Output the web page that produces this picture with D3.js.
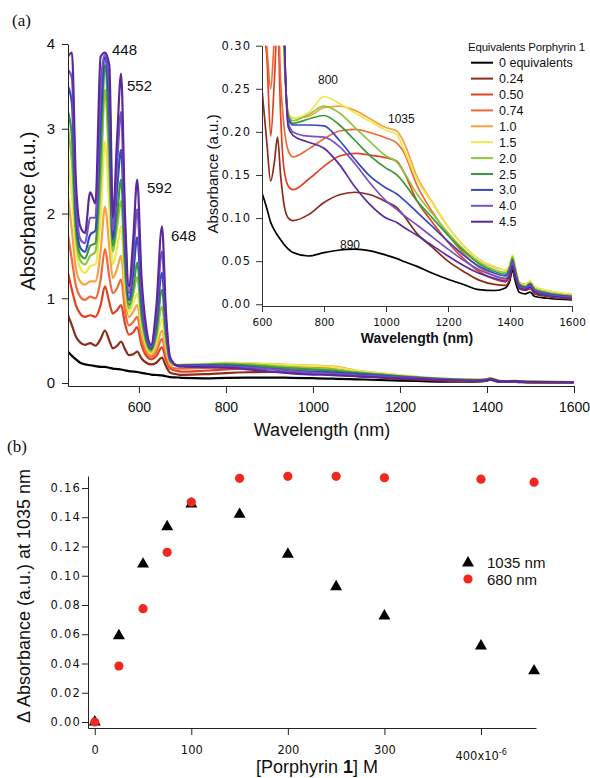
<!DOCTYPE html>
<html>
<head>
<meta charset="utf-8">
<script src="https://cdn.jsdelivr.net/npm/d3@7"></script>
<style>
body{margin:0;background:#fff}
svg{display:block}
text{font-family:"Liberation Sans",Arial,sans-serif;fill:#111}
.geneva text, text.geneva{font-family:"DejaVu Sans",Verdana,sans-serif}
</style>
</head>
<body>
<div id="chart"></div>
<script>
// ---- data ----
const equivNames = ["0 equivalents","0.24","0.50","0.74","1.0","1.5","2.0","2.5","3.0","4.0","4.5"];
const lineColors = ["#000000","#8c2a1c","#e2401f","#ef6a38","#f5a340","#efe84c","#8fc640","#3c9a3c","#3548c0","#7553c6","#5a2a9c"];

// visible region of the big panel (nm)
const wlUV = [437,446,455,465,476,488,500,512,522,532,540,550,559,568,577,587,596,606,617,628,640,653,662,672,690];
const uv_0   = [0.37,0.32,0.28,0.24,0.22,0.21,0.20,0.19,0.19,0.18,0.17,0.165,0.16,0.15,0.14,0.135,0.13,0.12,0.11,0.10,0.095,0.09,0.08,0.07,0.065];
const uv_024 = [0.80,0.68,0.55,0.48,0.45,0.47,0.44,0.52,0.62,0.50,0.41,0.44,0.49,0.40,0.33,0.34,0.37,0.29,0.24,0.22,0.24,0.30,0.20,0.12,0.10];
const uv_050 = [1.30,1.10,0.92,0.82,0.78,0.80,0.78,0.92,1.14,0.95,0.82,0.86,0.92,0.70,0.57,0.60,0.66,0.45,0.32,0.28,0.32,0.42,0.28,0.17,0.14];
const uv_074 = [1.75,1.45,1.15,1.02,0.98,1.02,1.00,1.22,1.58,1.25,1.06,1.12,1.22,0.85,0.68,0.72,0.78,0.52,0.36,0.31,0.37,0.52,0.34,0.19,0.17];
const uv_10  = [2.20,1.80,1.35,1.20,1.16,1.20,1.20,1.55,2.08,1.60,1.24,1.35,1.50,1.00,0.78,0.84,0.92,0.60,0.40,0.33,0.42,0.62,0.39,0.22,0.21];
const uv_15  = [2.70,2.20,1.60,1.36,1.30,1.38,1.40,1.95,2.85,2.05,1.40,1.60,1.85,1.15,0.84,0.95,1.05,0.68,0.44,0.35,0.48,0.75,0.45,0.24,0.215];
const uv_20  = [3.00,2.60,1.75,1.45,1.40,1.50,1.55,2.35,3.46,2.50,1.55,1.85,2.15,1.30,0.88,1.05,1.25,0.75,0.47,0.37,0.54,0.90,0.50,0.25,0.21];
const uv_25  = [3.20,2.90,1.85,1.52,1.47,1.62,1.65,2.70,3.75,2.80,1.62,2.00,2.40,1.42,0.92,1.12,1.42,0.82,0.50,0.39,0.60,1.10,0.58,0.26,0.21];
const uv_30  = [3.50,3.30,2.00,1.60,1.55,1.75,1.80,3.10,3.85,3.20,1.70,2.30,2.75,1.60,0.98,1.30,1.72,0.95,0.55,0.41,0.70,1.30,0.65,0.27,0.205];
const uv_40  = [3.70,3.60,2.20,1.70,1.65,1.95,1.95,3.50,3.88,3.50,1.80,2.60,3.20,1.80,1.06,1.50,2.05,1.10,0.60,0.43,0.80,1.55,0.75,0.28,0.20];
const uv_45  = [3.85,3.90,2.40,1.85,1.77,2.25,2.12,3.85,3.90,3.75,1.95,2.90,3.65,2.00,1.14,1.70,2.40,1.25,0.65,0.45,0.90,1.85,0.85,0.30,0.20];

// inset region (nm)
const wlNIR = [600,615,628,640,650,660,670,685,700,750,800,850,900,950,1000,1035,1055,1100,1150,1200,1250,1300,1350,1385,1400,1408,1416,1430,1450,1465,1480,1520,1600];
const nir_0   = [0.129,0.112,0.095,0.086,0.080,0.075,0.070,0.064,0.060,0.056,0.060,0.063,0.064,0.062,0.057,0.053,0.050,0.044,0.036,0.029,0.023,0.017,0.016,0.019,0.028,0.040,0.028,0.014,0.012,0.014,0.009,0.007,0.005];
const nir_024 = [0.249,0.19,0.143,0.165,0.194,0.15,0.118,0.10,0.097,0.104,0.118,0.127,0.130,0.127,0.119,0.112,0.104,0.082,0.066,0.050,0.038,0.028,0.023,0.022,0.030,0.045,0.032,0.018,0.016,0.018,0.012,0.009,0.006];
const nir_050 = [0.32,0.29,0.195,0.26,0.33,0.22,0.16,0.137,0.133,0.145,0.16,0.172,0.175,0.173,0.170,0.166,0.155,0.12,0.095,0.072,0.053,0.038,0.029,0.026,0.035,0.05,0.036,0.02,0.018,0.021,0.014,0.01,0.007];
const nir_074 = [0.34,0.30,0.25,0.31,0.36,0.26,0.21,0.178,0.171,0.18,0.192,0.201,0.203,0.199,0.193,0.187,0.178,0.138,0.107,0.081,0.059,0.043,0.033,0.029,0.038,0.052,0.038,0.022,0.02,0.023,0.015,0.011,0.008];
const nir_10  = [0.8,0.55,0.4,0.5,0.9,0.5,0.30,0.222,0.216,0.218,0.228,0.23,0.225,0.215,0.205,0.201,0.19,0.148,0.118,0.09,0.068,0.052,0.043,0.04,0.046,0.056,0.045,0.026,0.023,0.027,0.02,0.016,0.011];
const nir_15  = [0.9,0.6,0.45,0.6,1.0,0.55,0.31,0.222,0.216,0.222,0.241,0.233,0.222,0.212,0.202,0.197,0.182,0.145,0.117,0.09,0.068,0.052,0.044,0.04,0.047,0.057,0.045,0.025,0.022,0.027,0.02,0.016,0.012];
const nir_20  = [1.0,0.65,0.47,0.65,1.1,0.6,0.32,0.22,0.213,0.22,0.23,0.222,0.205,0.188,0.172,0.165,0.155,0.128,0.105,0.083,0.064,0.049,0.04,0.037,0.045,0.055,0.043,0.024,0.021,0.025,0.018,0.014,0.01];
const nir_25  = [1.1,0.7,0.5,0.7,1.2,0.65,0.33,0.218,0.21,0.215,0.219,0.208,0.19,0.172,0.158,0.15,0.142,0.12,0.1,0.08,0.062,0.047,0.038,0.035,0.043,0.053,0.041,0.023,0.02,0.024,0.017,0.013,0.009];
const nir_30  = [1.3,0.8,0.55,0.8,1.4,0.7,0.34,0.215,0.208,0.208,0.207,0.19,0.168,0.148,0.135,0.128,0.122,0.107,0.09,0.073,0.057,0.044,0.036,0.033,0.041,0.05,0.039,0.022,0.019,0.023,0.016,0.012,0.009];
const nir_40  = [1.6,0.9,0.6,0.9,1.6,0.8,0.35,0.21,0.2,0.195,0.194,0.183,0.163,0.14,0.12,0.11,0.104,0.092,0.078,0.064,0.051,0.04,0.033,0.03,0.038,0.048,0.036,0.02,0.018,0.021,0.015,0.011,0.008];
const nir_45  = [1.9,1.0,0.65,1.0,1.9,0.9,0.36,0.205,0.196,0.188,0.181,0.162,0.136,0.115,0.1,0.095,0.09,0.08,0.068,0.056,0.045,0.036,0.03,0.027,0.035,0.045,0.033,0.019,0.017,0.02,0.014,0.01,0.007];

// titration (panel b)
const concPorph = [0,25,50,75,100,150,200,250,300,400,455];
const dAbs1035  = [0,0.059,0.108,0.1335,0.149,0.142,0.1147,0.0925,0.0725,0.052,0.035];
const dAbs680   = [0,0.0383,0.0775,0.116,0.1504,0.1666,0.168,0.168,0.167,0.166,0.164];

const uvSets  = [uv_0,uv_024,uv_050,uv_074,uv_10,uv_15,uv_20,uv_25,uv_30,uv_40,uv_45];
const nirSets = [nir_0,nir_024,nir_050,nir_074,nir_10,nir_15,nir_20,nir_25,nir_30,nir_40,nir_45];

const W = 590, H = 778;
const svg = d3.select("#chart").append("svg").attr("width",W).attr("height",H);

// ---------- panel (a) main ----------
const xMain = d3.scaleLinear().domain([437,1600]).range([68,574]);
const yMain = d3.scaleLinear().domain([-0.035,4]).range([386,44]);

svg.append("defs").append("clipPath").attr("id","clipMain")
  .append("rect").attr("x",68).attr("y",44).attr("width",506).attr("height",342);
svg.select("defs").append("clipPath").attr("id","clipInset")
  .append("rect").attr("x",262).attr("y",45.7).attr("width",310).attr("height",260.3);

const mainLine = d3.line().x(d=>xMain(d[0])).y(d=>yMain(d[1])).curve(d3.curveMonotoneX);
const mainG = svg.append("g").attr("clip-path","url(#clipMain)");
uvSets.forEach((s,i)=>{
  let pts = wlUV.map((w,j)=>[w,s[j]]);
  wlNIR.forEach((w,j)=>{ if(w>=700) pts.push([w,nirSets[i][j]]) });
  mainG.append("path").datum(pts)
    .attr("fill","none").attr("stroke",lineColors[i])
    .attr("stroke-width",2.2).attr("stroke-linejoin","round")
    .attr("d",mainLine);
});

let ax = svg.append("g").attr("transform","translate(68,0)")
  .call(d3.axisLeft(yMain).tickValues([0,1,2,3,4]).tickFormat(d3.format("d")).tickSize(6).tickSizeOuter(0).tickPadding(7));
ax.selectAll("text").style("font-size","15px");
let bx = svg.append("g").attr("transform","translate(0,386)")
  .call(d3.axisBottom(xMain).tickValues([600,800,1000,1200,1400,1600]).tickFormat(d3.format("d")).tickSize(7).tickSizeOuter(0).tickPadding(9));
bx.selectAll("text").style("font-size","14px");
svg.selectAll(".domain, .tick line").attr("stroke","#222");

svg.append("text").text("Wavelength (nm)").attr("x",322).attr("y",436)
  .attr("text-anchor","middle").style("font-size","18px");
svg.append("text").text("Absorbance (a.u.)")
  .attr("transform","translate(35,211) rotate(-90)")
  .attr("text-anchor","middle").style("font-size","20px");

const peakLabels = [["448",112,54.5],["552",127,90.5],["592",147,192.5],["648",171,240.5]];
peakLabels.forEach(p=>{
  svg.append("text").text(p[0]).attr("x",p[1]).attr("y",p[2]).style("font-size","15px");
});

svg.append("text").text("(a)").attr("x",12).attr("y",26)
  .style("font-family","'Liberation Serif','Times New Roman',serif").style("font-size","17px");

// ---------- panel (a) inset ----------
const xIn = d3.scaleLinear().domain([600,1600]).range([262,572]);
const yIn = d3.scaleLinear().domain([-0.002,0.30]).range([306,45.7]);
const inLine = d3.line().x(d=>xIn(d[0])).y(d=>yIn(d[1])).curve(d3.curveMonotoneX);
const inG = svg.append("g").attr("clip-path","url(#clipInset)");
nirSets.forEach((s,i)=>{
  inG.append("path").datum(wlNIR.map((w,j)=>[w,s[j]]))
    .attr("fill","none").attr("stroke",lineColors[i])
    .attr("stroke-width",1.7).attr("stroke-linejoin","round")
    .attr("d",inLine);
});
let ay = svg.append("g").attr("class","geneva").attr("transform","translate(262,0)")
  .call(d3.axisLeft(yIn).tickValues([0,0.05,0.1,0.15,0.2,0.25,0.3]).tickFormat(d3.format(".2f")).tickSize(6).tickSizeOuter(0).tickPadding(5));
ay.selectAll("text").style("font-size","11.5px").style("letter-spacing","1px");
let ix = svg.append("g").attr("class","geneva").attr("transform","translate(0,306)")
  .call(d3.axisBottom(xIn).tickValues([600,800,1000,1200,1400,1600]).tickFormat(d3.format("d")).tickSize(6).tickSizeOuter(0).tickPadding(7));
ix.selectAll("text").style("font-size","10.5px");
ay.selectAll(".domain, .tick line").attr("stroke","#333");
ix.selectAll(".domain, .tick line").attr("stroke","#333");

svg.append("text").text("Wavelength (nm)").attr("x",417).attr("y",343)
  .attr("text-anchor","middle").style("font-size","14px").style("font-weight","bold");
svg.append("text").text("Absorbance (a.u.)")
  .attr("transform","translate(218,174) rotate(-90)")
  .attr("text-anchor","middle").style("font-size","15px");

const insetLabels = [["800",318,84],["1035",388,123],["890",340,249]];
insetLabels.forEach(p=>{
  svg.append("text").text(p[0]).attr("x",p[1]).attr("y",p[2]).style("font-size","12px");
});

// legend
svg.append("text").text("Equivalents Porphyrin 1").attr("x",468).attr("y",51)
  .style("font-size","11.5px").style("letter-spacing","-0.2px");
equivNames.forEach((n,i)=>{
  let y = 62.7 + i*15.9;
  svg.append("line").attr("x1",471).attr("x2",493).attr("y1",y).attr("y2",y)
    .attr("stroke",lineColors[i]).attr("stroke-width",2);
  svg.append("text").text(n).attr("x",499).attr("y",y+4.5).style("font-size","12.5px");
});

// ---------- panel (b) ----------
const xB = d3.scaleLinear().domain([-7,457]).range([88,536]);
const yB = d3.scaleLinear().domain([-0.0041,0.1682]).range([728,476]);

let byAx = svg.append("g").attr("class","geneva").attr("transform","translate(88,0)")
  .call(d3.axisLeft(yB).tickValues(d3.range(0,0.161,0.02)).tickFormat(d3.format(".2f")).tickSize(6).tickSizeOuter(0).tickPadding(1));
byAx.selectAll("text").style("font-size","11.5px").style("letter-spacing","1.2px");
let bxAx = svg.append("g").attr("class","geneva").attr("transform","translate(0,728)")
  .call(d3.axisBottom(xB).tickValues([0,100,200,300,400]).tickSize(7).tickSizeOuter(0).tickPadding(11));
bxAx.selectAll("text").style("font-size","11.5px");
bxAx.selectAll(".tick").filter(d=>d==400).select("text")
  .text(null).attr("text-anchor","start").attr("x",-26).attr("dy","1.2em")
  .call(t=>{
    t.append("tspan").text("400x10");
    t.append("tspan").text("-6").attr("dy","-0.6em").style("font-size","8px");
  });
byAx.selectAll(".domain, .tick line").attr("stroke","#222");
bxAx.selectAll(".domain, .tick line").attr("stroke","#222");

svg.selectAll("path.triMark").data(concPorph).enter().append("path")
  .attr("class","triMark")
  .attr("transform",(d,i)=>"translate("+xB(d)+","+yB(dAbs1035[i])+")")
  .attr("d",d3.symbol(d3.symbolTriangle,62)).attr("fill","#000");
svg.selectAll("circle.dotMark").data(concPorph).enter().append("circle")
  .attr("class","dotMark")
  .attr("cx",d=>xB(d)).attr("cy",(d,i)=>yB(dAbs680[i])).attr("r",4.6)
  .attr("fill","#f0281e");

// legend b
svg.append("path").attr("transform","translate(468,563)")
  .attr("d",d3.symbol(d3.symbolTriangle,62)).attr("fill","#000");
svg.append("circle").attr("cx",468).attr("cy",579).attr("r",4.6).attr("fill","#f0281e");
svg.append("text").text("1035 nm").attr("x",487).attr("y",568).style("font-size","15px");
svg.append("text").text("680 nm").attr("x",487).attr("y",585).style("font-size","15px");

svg.append("text").attr("x",317).attr("y",773).attr("text-anchor","middle").style("font-size","18px")
  .call(t=>{
    t.append("tspan").text("[Porphyrin ");
    t.append("tspan").text("1").style("font-weight","bold");
    t.append("tspan").text("] M");
  });
svg.append("text").text("\u0394 Absorbance (a.u.) at 1035 nm")
  .attr("transform","translate(30,596) rotate(-90)")
  .attr("text-anchor","middle").style("font-size","18px");

svg.append("text").text("(b)").attr("x",7).attr("y",452)
  .style("font-family","'Liberation Serif','Times New Roman',serif").style("font-size","17px");
</script>
</body>
</html>
